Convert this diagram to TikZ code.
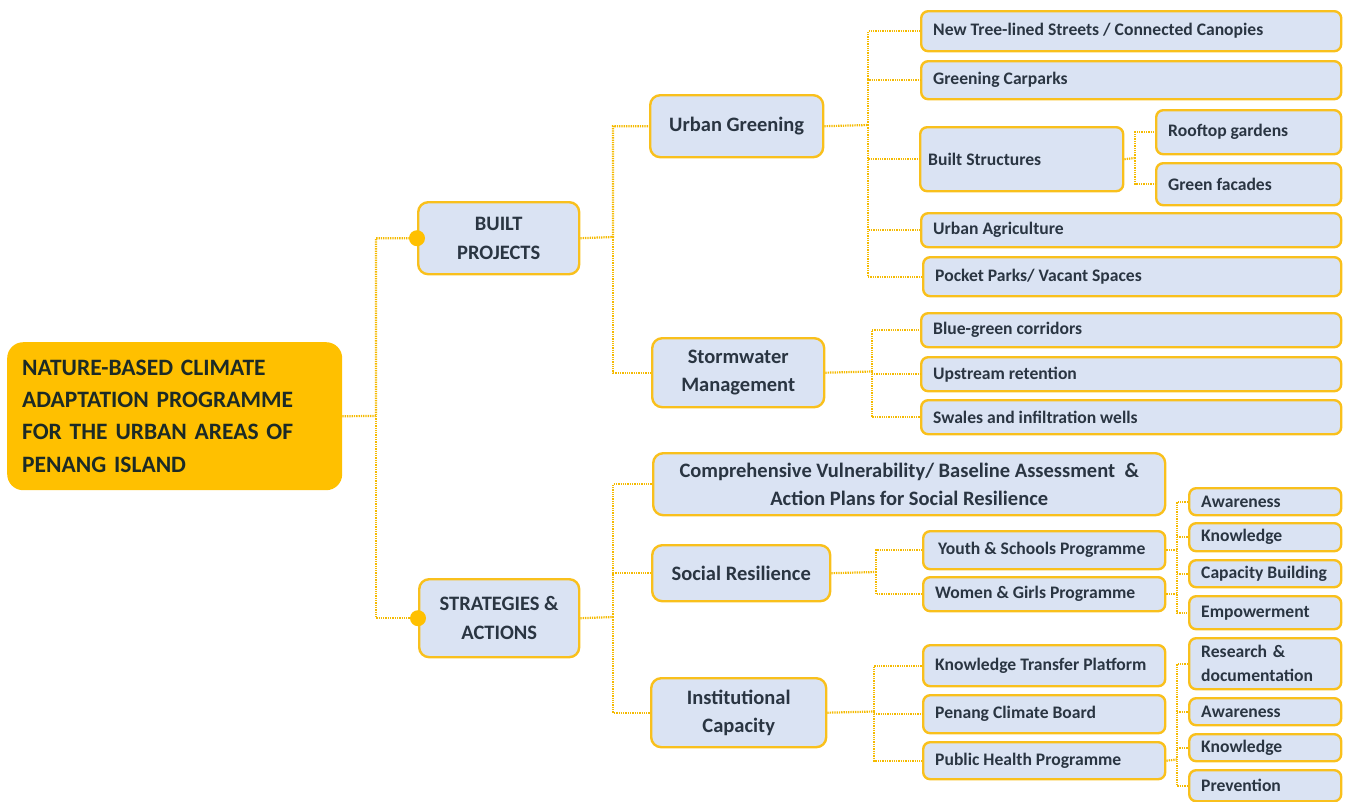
\documentclass[tikz,border=0pt]{standalone}
\usepackage{fontspec}
\setmainfont{Carlito}
\definecolor{gold}{HTML}{FFC000}
\definecolor{edge}{HTML}{F9C01C}
\definecolor{boxfill}{HTML}{DAE3F3}
\definecolor{ink}{HTML}{2A3542}
\definecolor{rootink}{HTML}{1C2A26}
\definecolor{wire}{HTML}{F5BA00}
% left-aligned label of fixed width (no line breaking)
\newcommand\lbox[2]{\makebox[#1][l]{#2}}

\begin{document}
\begin{tikzpicture}[x=1pt,y=-1pt,
  base/.style={draw=edge, line width=2.4pt, fill=boxfill, text=ink, inner sep=0pt, anchor=north west},
  hub/.style={base, rounded corners=10pt, align=center, font=\fontsize{20.5}{28.5}\selectfont\bfseries},
  leaf/.style={base, rounded corners=7pt, inner xsep=12pt, font=\fontsize{17.6}{24}\selectfont\bfseries},
  wh/.style 2 args={minimum width=#1pt, minimum height=#2pt},
  conn/.style={draw=wire, line width=2.2pt, dash pattern=on 1.3pt off 1pt},
  knob/.style={fill=gold}
]
\useasboundingbox (0,0) rectangle (1346,801);

% ---- root ----
\node[fill=gold, rounded corners=16pt, anchor=north west, wh={335}{148}, inner xsep=15pt, inner ysep=0pt,
      text=rootink, font=\fontsize{23.5}{32.3}\selectfont\bfseries, align=left, text width=305pt]
  (root) at (7,342) {NATURE-BASED CLIMATE\\ADAPTATION PROGRAMME\\FOR THE URBAN AREAS OF\\PENANG ISLAND};

% ---- first level ----
\node[hub, wh={161}{72}] (bp) at (417,201) {BUILT\\PROJECTS};
\node[hub, wh={160}{78}] (sa) at (418,578) {STRATEGIES \&\\ACTIONS};

% ---- second level ----
\node[hub, wh={173}{62}] (ug) at (649,94) {Urban Greening};
\node[hub, wh={172}{69}] (sw) at (651,337) {Stormwater\\Management};
\node[hub, wh={512}{62}] (comp) at (652,452) {Comprehensive Vulnerability/ Baseline Assessment\ \ \&\\Action Plans for Social Resilience};
\node[hub, wh={178}{56}] (sr) at (651,544) {Social Resilience};
\node[hub, wh={175}{69}] (ic) at (650,677) {Institutional\\Capacity};

% ---- urban greening items ----
\node[leaf, wh={420}{40}] (tree) at (920,10) {\lbox{396pt}{New Tree-lined Streets / Connected Canopies}};
\node[leaf, wh={420}{38}] (park) at (920,60) {\lbox{396pt}{Greening Carparks}};
\node[leaf, wh={203}{64}, inner xsep=8pt] (bs) at (919,126) {\lbox{187pt}{Built Structures}};
\node[leaf, wh={185}{44}] (roof) at (1155,109) {\lbox{161pt}{Rooftop gardens}};
\node[leaf, wh={185}{42}] (facade) at (1155,162) {\lbox{161pt}{Green facades}};
\node[leaf, wh={420}{34}] (agri) at (920,212) {\lbox{396pt}{Urban Agriculture}};
\node[leaf, wh={418}{39}] (pocket) at (922,256) {\lbox{394pt}{Pocket Parks/ Vacant Spaces}};

% ---- stormwater items ----
\node[leaf, wh={420}{34}] (blue) at (920,312) {\lbox{396pt}{Blue-green corridors}};
\node[leaf, wh={420}{34}] (up) at (920,356) {\lbox{396pt}{Upstream retention}};
\node[leaf, wh={420}{34}] (swale) at (920,399) {\lbox{396pt}{Swales and infiltration wells}};

% ---- social resilience items ----
\node[leaf, wh={242}{38}] (youth) at (922,530) {\lbox{218pt}{\,Youth \& Schools Programme}};
\node[leaf, wh={242}{34}] (women) at (922,576) {\lbox{218pt}{Women \& Girls Programme}};

% ---- institutional capacity items ----
\node[leaf, wh={242}{41}] (ktp) at (922,644) {\lbox{218pt}{Knowledge Transfer Platform}};
\node[leaf, wh={242}{38}] (pcb) at (922,694) {\lbox{218pt}{Penang Climate Board}};
\node[leaf, wh={242}{37}] (php) at (922,741) {\lbox{218pt}{Public Health Programme}};

% ---- outcomes ----
\node[leaf, wh={152}{27}] (aw1) at (1188,487) {\lbox{128pt}{Awareness}};
\node[leaf, wh={152}{28}] (kn1) at (1188,522) {\lbox{128pt}{Knowledge}};
\node[leaf, wh={152}{27}] (cap) at (1188,559) {\lbox{128pt}{Capacity Building}};
\node[leaf, wh={152}{33}] (emp) at (1188,595) {\lbox{128pt}{Empowerment}};
\node[leaf, wh={152}{51}, text width=128pt, align=left] (res) at (1188,637) {Research \&\\documentation};
\node[leaf, wh={152}{27}] (aw2) at (1188,697) {\lbox{128pt}{Awareness}};
\node[leaf, wh={152}{27}] (kn2) at (1188,733) {\lbox{128pt}{Knowledge}};
\node[leaf, wh={152}{31}] (prev) at (1188,769) {\lbox{128pt}{Prevention}};

% ---- junction points ----
\coordinate (j0) at (376,416);
\coordinate (j1) at (613,237);
\coordinate (j2) at (868,125);
\coordinate (j3) at (1135,158);
\coordinate (j4) at (872,371.5);
\coordinate (j5) at (613,617);
\coordinate (j6) at (876,572);
\coordinate (j7) at (874,711.5);
\coordinate (j8) at (1177,549);
\coordinate (j9) at (1177,759.5);

% ---- connectors ----
\draw[conn] (root.east) -- (j0) |- (bp.west);
\draw[conn] (j0) |- (sa.west);

\draw[conn] (bp.east) -- (j1) |- (ug.west);
\draw[conn] (j1) |- (sw.west);

\draw[conn] (ug.east) -- (j2);
\foreach \n in {tree,park,bs,agri,pocket} \draw[conn] (j2) |- (\n.west);
\draw[conn] (bs.east) -- (j3);
\foreach \n in {roof,facade} \draw[conn] (j3) |- (\n.west);

\draw[conn] (sw.east) -- (j4);
\foreach \n in {blue,up,swale} \draw[conn] (j4) |- (\n.west);

\draw[conn] (sa.east) -- (j5);
\foreach \n in {comp,sr,ic} \draw[conn] (j5) |- (\n.west);

\draw[conn] (sr.east) -- (j6);
\foreach \n in {youth,women} \draw[conn] (j6) |- (\n.west);

\draw[conn] (ic.east) -- (j7);
\foreach \n in {ktp,pcb,php} \draw[conn] (j7) |- (\n.west);

\draw[conn] (youth.east) -- (youth.east -| j8);
\draw[conn] (women.east) -- (women.east -| j8);
\draw[conn] (aw1.west) -| (j8 |- emp.west) -- (emp.west);
\foreach \n in {kn1,cap} \draw[conn] (j8 |- \n.west) -- (\n.west);

\draw[conn] (php.east) -- (j9);
\draw[conn] (res.west) -| (j9 |- prev.west) -- (prev.west);
\foreach \n in {aw2,kn2} \draw[conn] (j9 |- \n.west) -- (\n.west);

% ---- attachment knobs ----
\fill[knob] (bp.west) circle (8pt);
\fill[knob] (sa.west) circle (8pt);
\end{tikzpicture}
\end{document}
